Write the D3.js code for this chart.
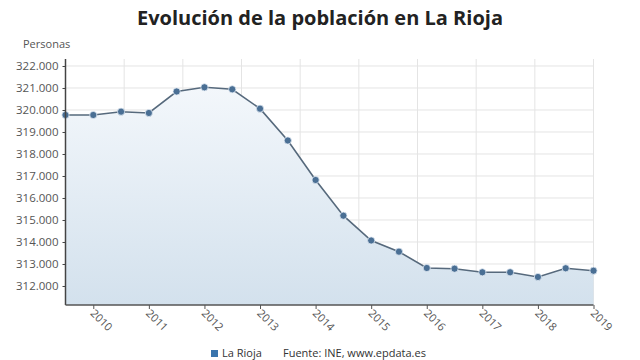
<!DOCTYPE html>
<html><head><meta charset="utf-8">
<script src="https://cdn.jsdelivr.net/npm/d3@7"></script>
<style>
html,body{margin:0;padding:0;background:#fff;}
svg{display:block;font-family:"Open Sans",sans-serif;}
</style></head>
<body><svg id="c" width="640" height="360"></svg>
<script>
const periods = [2009.5,2010,2010.5,2011,2011.5,2012,2012.5,2013,2013.5,2014,2014.5,2015,2015.5,2016,2016.5,2017,2017.5,2018,2018.5,2019];
const population = [319773,319773,319923,319864,320841,321032,320941,320059,318614,316818,315195,314068,313559,312818,312786,312623,312623,312409,312805,312695];
const yTicks = [312000,313000,314000,315000,316000,317000,318000,319000,320000,321000,322000];
const xTicks = [2010,2011,2012,2013,2014,2015,2016,2017,2018,2019];
const seriesName = "La Rioja";
const titleText = "Evolución de la población en La Rioja";
const unitText = "Personas";
const sourceText = "Fuente: INE, www.epdata.es";

const svg = d3.select("#c");
const L = 65.5, R = 593.5, T = 59, B = 305;
const x = d3.scaleLinear().domain([2009.5, 2019]).range([L, R]);
const y = d3.scaleLinear().domain([311136, 322318]).range([B, T]);
const fmt = v => d3.format(",")(v).replace(/,/g, ".");

const defs = svg.append("defs");
const g = defs.append("linearGradient").attr("id","ag").attr("x1",0).attr("y1",0).attr("x2",0).attr("y2",1);
g.append("stop").attr("offset","0%").attr("stop-color","#f3f7fb");
g.append("stop").attr("offset","100%").attr("stop-color","#d3e1ed");

// title
svg.append("text").attr("x",320).attr("y",25).attr("text-anchor","middle")
  .attr("font-size",20).attr("font-weight","bold").attr("fill","#222").text(titleText);
svg.append("text").attr("x",23).attr("y",48).attr("font-size",11).attr("fill","#555").text(unitText);

// horizontal gridlines
svg.append("g").selectAll("line").data(yTicks).join("line")
  .attr("x1",L).attr("x2",R).attr("y1",d=>y(d)).attr("y2",d=>y(d))
  .attr("stroke","#e4e4e4").attr("stroke-width",1);
// vertical gridlines (evenly dividing plot)
const vg = d3.range(10).map(i => x.domain()[0] + i*(x.domain()[1]-x.domain()[0])/9);
svg.append("g").selectAll("line").data(vg).join("line")
  .attr("x1",d=>x(d)).attr("x2",d=>x(d)).attr("y1",T).attr("y2",B)
  .attr("stroke","#e4e4e4").attr("stroke-width",1);

const pts = periods.map((p,i)=>({p, v: population[i]}));
// area
svg.append("path").datum(pts)
  .attr("d", d3.area().x(d=>x(d.p)).y0(B).y1(d=>y(d.v)))
  .attr("fill","url(#ag)");
// line
svg.append("path").datum(pts)
  .attr("d", d3.line().x(d=>x(d.p)).y(d=>y(d.v)))
  .attr("fill","none").attr("stroke","#56697c").attr("stroke-width",1.6);
svg.append("g").selectAll("circle").data(pts).join("circle")
  .attr("cx",d=>x(d.p)).attr("cy",d=>y(d.v)).attr("r",3.6)
  .attr("fill","#4a6f94").attr("stroke","#dfe9f2").attr("stroke-width",0.8);

// y axis
const ya = svg.append("g").attr("transform",`translate(${L},0)`)
  .call(d3.axisLeft(y).tickValues(yTicks).tickFormat(fmt).tickSize(3).tickPadding(4));
ya.select(".domain").attr("stroke","#444").attr("stroke-width",1.5).attr("d",`M0,${T}V${B}`);
ya.selectAll(".tick line").attr("stroke","#444");
ya.selectAll("text").attr("font-size",11.5).attr("fill","#555").attr("font-family","Open Sans");

// x axis
const xa = svg.append("g").attr("transform",`translate(0,${B})`)
  .call(d3.axisBottom(x).tickValues(xTicks).tickFormat(d3.format("d")).tickSize(4).tickPadding(4));
xa.select(".domain").attr("stroke","#555").attr("stroke-width",1.5).attr("d",`M${L},0H${R}`);
xa.selectAll(".tick line").attr("stroke","#555");
xa.selectAll("text").attr("font-size",11).attr("fill","#555").attr("font-family","Open Sans")
  .attr("text-anchor","start").attr("dy",0).attr("y",0)
  .attr("transform","translate(-4,9) rotate(45)");

// legend
svg.append("rect").attr("x",211).attr("y",350).attr("width",7).attr("height",7).attr("fill","#3a75ad");
svg.append("text").attr("x",222).attr("y",357).attr("font-size",11).attr("fill","#333").text(seriesName);
svg.append("text").attr("x",283).attr("y",357).attr("font-size",11).attr("fill","#333").text(sourceText);
</script></body></html>
